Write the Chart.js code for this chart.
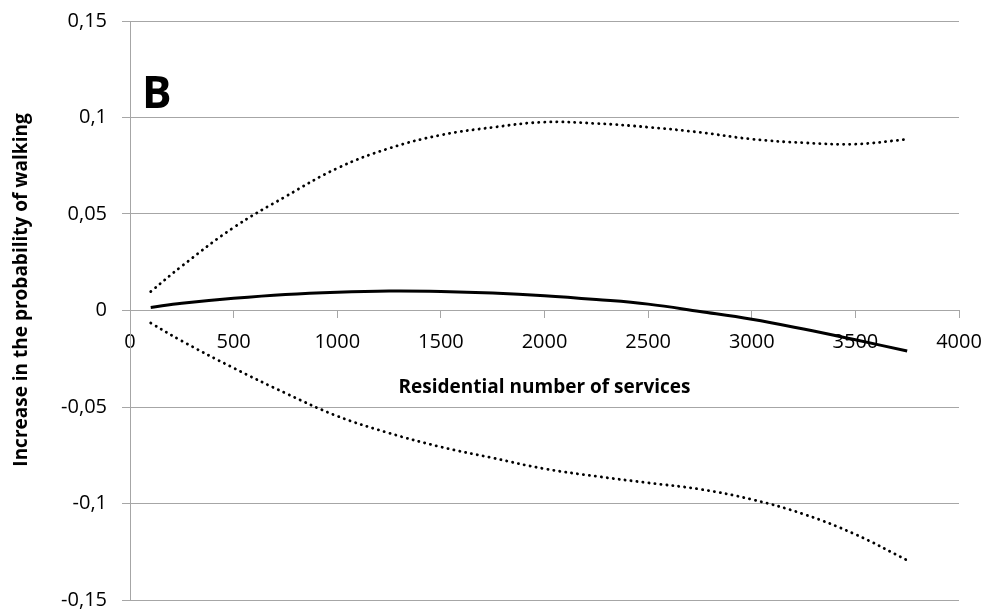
<!DOCTYPE html>
<html>
<head>
<meta charset="utf-8">
<script src="https://cdn.jsdelivr.net/npm/chart.js@4.4.1/dist/chart.umd.min.js"></script>
<style>
  html, body { margin: 0; padding: 0; background: #fff; }
  #wrap { width: 986px; height: 612px; }
</style>
</head>
<body>
<div id="wrap"><canvas id="chart"></canvas></div>
<script>
// residential number of services (x)
const services = [100, 250, 500, 750, 1000, 1250, 1500, 1750, 2000, 2250, 2500, 2750, 3000, 3250, 3500, 3750];
// estimated increase in probability of walking
const estimate = [0.0016, 0.0037, 0.0063, 0.0083, 0.0095, 0.0101, 0.0099, 0.0091, 0.0077, 0.0057, 0.0033, -0.0005, -0.0045, -0.0096, -0.0152, -0.021];
// confidence bounds
const upper = [0.0098, 0.023, 0.043, 0.059, 0.0737, 0.084, 0.0909, 0.0949, 0.0976, 0.0969, 0.095, 0.0923, 0.0888, 0.0869, 0.0862, 0.0887];
const lower = [-0.0065, -0.0158, -0.0298, -0.0428, -0.0547, -0.0635, -0.0707, -0.0764, -0.082, -0.0859, -0.0893, -0.0926, -0.0979, -0.1055, -0.116, -0.1294];

const xTicks = [0, 500, 1000, 1500, 2000, 2500, 3000, 3500, 4000];
const yTicks = [-0.15, -0.1, -0.05, 0, 0.05, 0.1, 0.15];

const gridGray = "#a6a6a6";
const font = "'Open Sans', 'Liberation Sans', sans-serif";

const toPoints = (ys) => services.map((x, i) => ({ x: x, y: ys[i] }));

const commaFmt = (v) => {
  const r = Math.round(v * 100) / 100;
  return String(r).replace(".", ",");
};

// extra text: panel letter and rotated y title
const textPlugin = {
  id: "panelText",
  afterDraw(chart) {
    const c = chart.ctx;
    c.save();
    c.fillStyle = "#000";
    c.font = "bold 44px " + font;
    c.textAlign = "left";
    c.textBaseline = "alphabetic";
    c.fillText("B", 142, 108);

    c.translate(22, 290);
    c.rotate(-Math.PI / 2);
    c.font = "bold 19px " + font;
    c.textAlign = "center";
    c.textBaseline = "middle";
    c.fillText("Increase in the probability of walking", 0, 0);
    c.restore();
  }
};

const dotted = {
  borderColor: "#000",
  borderWidth: 2.8,
  borderDash: [0.2, 5.8],
  borderCapStyle: "round",
  pointRadius: 0,
  tension: 0.4,
  fill: false
};

const ctx = document.getElementById("chart").getContext("2d");

new Chart(ctx, {
  type: "line",
  data: {
    datasets: [
      Object.assign({ label: "Upper", data: toPoints(upper) }, dotted),
      {
        label: "Estimate",
        data: toPoints(estimate),
        borderColor: "#000",
        borderWidth: 3,
        pointRadius: 0,
        tension: 0.4,
        fill: false
      },
      Object.assign({ label: "Lower", data: toPoints(lower) }, dotted)
    ]
  },
  options: {
    responsive: true,
    maintainAspectRatio: false,
    animation: false,
    layout: {
      padding: { top: 21, right: 27, bottom: 12, left: 0 }
    },
    plugins: {
      legend: { display: false },
      tooltip: { enabled: false }
    },
    scales: {
      x: {
        type: "linear",
        position: { y: 0 },
        min: 0,
        max: 4000,
        afterBuildTicks: (axis) => { axis.ticks = xTicks.map((v) => ({ value: v })); },
        afterFit: (axis) => {
          axis.paddingLeft = 0;
          axis.paddingRight = 0;
        },
        ticks: {
          color: "#000",
          font: { family: font, size: 20 },
          padding: 13,
          maxRotation: 0,
          autoSkip: false,
          callback: (v) => String(v)
        },
        grid: {
          drawOnChartArea: false,
          drawTicks: true,
          tickLength: 7,
          color: gridGray
        },
        border: { color: gridGray, width: 1 },
        title: {
          display: true,
          text: "Residential number of services",
          color: "#000",
          font: { family: font, size: 19, weight: "bold" },
          padding: { top: 9 }
        }
      },
      y: {
        type: "linear",
        min: -0.15,
        max: 0.15,
        afterBuildTicks: (axis) => { axis.ticks = yTicks.map((v) => ({ value: v })); },
        afterFit: (axis) => {
          axis.width = 130;
          axis.paddingTop = 0;
          axis.paddingBottom = 0;
        },
        ticks: {
          color: "#000",
          font: { family: font, size: 20 },
          padding: 15,
          callback: (v) => commaFmt(v)
        },
        grid: {
          color: gridGray,
          lineWidth: 1,
          tickLength: 8
        },
        border: { color: gridGray, width: 1 }
      }
    }
  },
  plugins: [textPlugin]
});
</script>
</body>
</html>
